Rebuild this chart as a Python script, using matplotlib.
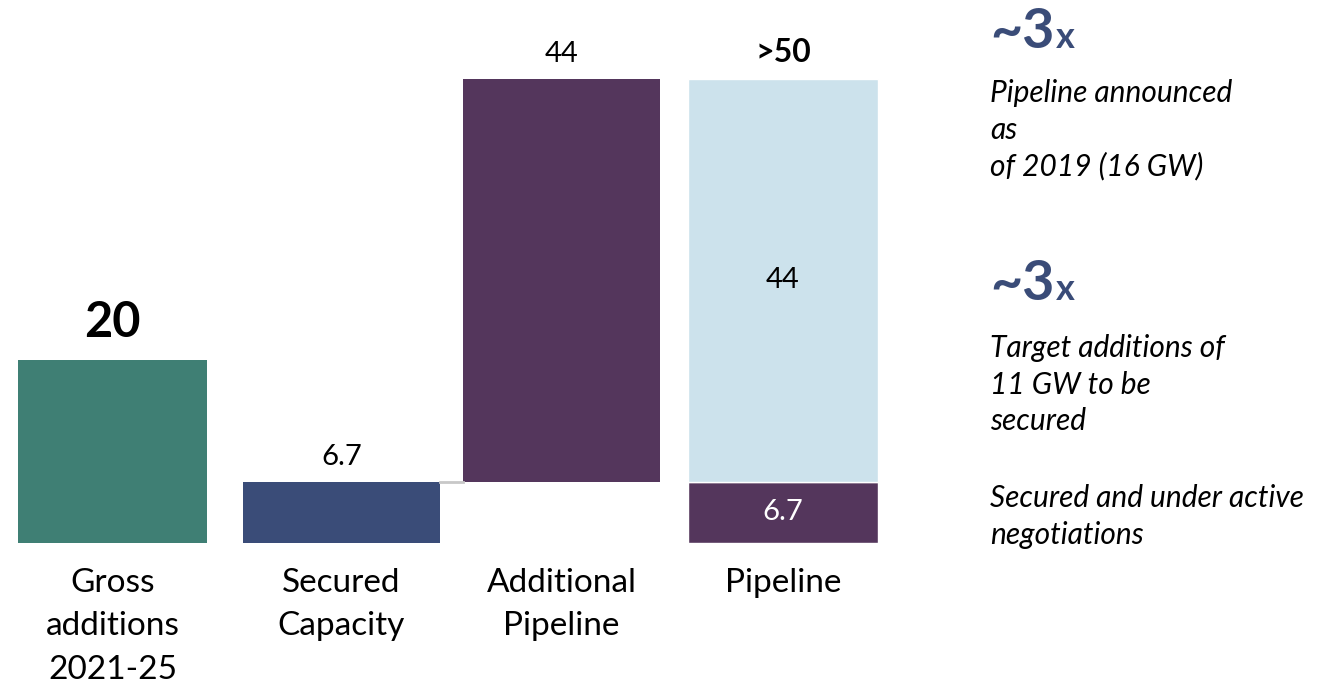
import matplotlib.pyplot as plt

plt.rcParams['font.family'] = ['Lato', 'DejaVu Sans']

categories = ['Gross\nadditions\n2021-25', 'Secured\nCapacity', 'Additional\nPipeline', 'Pipeline']
gross = 20
secured = 6.7
additional = 44
pipeline_base = 6.7
pipeline_top = 44
pipeline_label = '>50'

green = '#3F7F74'
navy = '#3A4C78'
purple = '#54365C'
light = '#CCE2EC'

W, H = 1342, 687
fig = plt.figure(figsize=(W / 100, H / 100), dpi=100)
# axes: x in pixel units, baseline at 543 px
ax = fig.add_axes([0, (H - 543) / H, 900 / W, 500 / H])
ax.set_xlim(0, 900)
ax.set_ylim(0, 500 / 9.15)
ax.axis('off')

xs = [112.5, 341.5, 561.5, 783]
ws = [189, 197, 197, 190]

ax.bar(xs[0], gross, ws[0], color=green)
ax.bar(xs[1], secured, ws[1], color=navy)
ax.bar(xs[2], additional, ws[2], bottom=secured, color=purple)
ax.bar(xs[3], pipeline_base, ws[3], color=purple, edgecolor='white', linewidth=1)
ax.bar(xs[3], pipeline_top, ws[3], bottom=pipeline_base, color=light, edgecolor='white', linewidth=1)

# connector between secured and additional
ax.plot([xs[1] + ws[1] / 2, xs[2] - ws[2] / 2], [secured, secured], color='#C8C8C8', lw=2)

ax.text(xs[0], gross + 1.6, f'{gross}', ha='center', va='bottom', fontsize=35, fontweight='bold')
ax.text(xs[1], secured + 1.3, f'{secured}', ha='center', va='bottom', fontsize=21)
ax.text(xs[2], secured + additional + 1.3, f'{additional}', ha='center', va='bottom', fontsize=21)
ax.text(xs[3], pipeline_base + pipeline_top + 1.3, pipeline_label, ha='center', va='bottom',
        fontsize=23, fontweight='bold')
ax.text(xs[3], pipeline_base + pipeline_top / 2, f'{pipeline_top}', ha='center', va='center', fontsize=21)
ax.text(xs[3], pipeline_base / 2, f'{pipeline_base}', ha='center', va='center', fontsize=21, color='white')

for x, lab in zip(xs, categories):
    ax.text(x, -2.7, lab, ha='center', va='top', fontsize=24, linespacing=1.56)


def px(x, y):
    return x / W, 1 - y / H


blue_txt = '#3A4C78'
for y0 in [48, 300]:
    fig.text(*px(990, y0), '~3', fontsize=40, fontweight='bold', color=blue_txt, va='baseline')
    fig.text(*px(1056, y0), 'x', fontsize=26, fontweight='bold', color=blue_txt, va='baseline')

notes = ['Pipeline announced\nas\nof 2019 (16 GW)',
         'Target additions of\n11 GW to be\nsecured',
         'Secured and under active\nnegotiations']
for y0, note in zip([79, 334, 484], notes):
    fig.text(*px(990, y0), note, fontsize=21.5, style='italic', va='top', linespacing=1.37)

fig.savefig('out.png', dpi=100)
